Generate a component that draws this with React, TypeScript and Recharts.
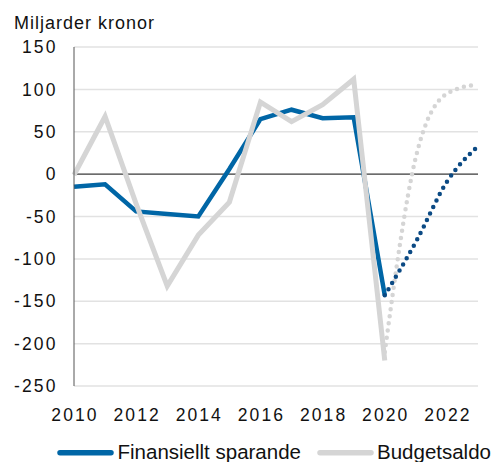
import React from 'react';
import { LineChart, Line, XAxis, YAxis, CartesianGrid, ReferenceLine } from 'recharts';

const years = [2010, 2011, 2012, 2013, 2014, 2015, 2016, 2017, 2018, 2019, 2020, 2021, 2022, 2023];
const finansielltSparande = [-15, -12, -44, -47, -50, 6, 65, 76, 66, 67, -143, null, null, null];
const budgetsaldo = [-1, 68, -35, -132, -72, -33, 85, 62, 82, 112, -220, null, null, null];
const finansielltPrognos = [null, null, null, null, null, null, null, null, null, null, -143, -80, -9, 33];
const budgetPrognos = [null, null, null, null, null, null, null, null, null, null, -210, 20, 95, 106];

const xTicks = [2010, 2012, 2014, 2016, 2018, 2020, 2022];
const yTicks = [-250, -200, -150, -100, -50, 0, 50, 100, 150];

const data = years.map((year, i) => ({
  year,
  fin: finansielltSparande[i],
  budget: budgetsaldo[i],
  finProg: finansielltPrognos[i],
  budgetProg: budgetPrognos[i],
}));

const BLUE = '#0066a6';
const BLUE_DARK = '#0b4a84';
const GREY = '#d5d5d5';

const tickStyle = {
  fill: '#111',
  fontSize: 17.5,
  fontFamily: '"Liberation Sans", Arial, sans-serif',
  letterSpacing: 2.1,
};

const App: React.FC = () => {
  return (
    <div style={{ position: 'absolute', left: 0, top: 0, width: 495, height: 462 }}>
      <LineChart width={495} height={462} data={data} margin={{ top: 47, right: 17, left: 0, bottom: 46 }}>
        <CartesianGrid vertical={false} stroke="#e2e2e2" strokeWidth={1.5} />
        <XAxis
          dataKey="year"
          type="number"
          domain={[2010, 2023]}
          ticks={xTicks}
          axisLine={false}
          tickLine={false}
          tickSize={0}
          tickMargin={22.6}
          height={30}
          dx={1}
          tick={tickStyle}
        />
        <YAxis
          domain={[-250, 150]}
          ticks={yTicks}
          width={74}
          axisLine={{ stroke: '#555', strokeWidth: 1 }}
          tickLine={false}
          tickSize={0}
          tickMargin={16.5}
          tick={tickStyle}
        />
        <ReferenceLine y={0} stroke="#444" strokeWidth={1.2} />
        <Line dataKey="fin" stroke={BLUE} strokeWidth={4.5} dot={false} activeDot={false} isAnimationActive={false} />
        <Line dataKey="budget" stroke={GREY} strokeWidth={5} dot={false} activeDot={false} isAnimationActive={false} />
        <Line
          dataKey="budgetProg"
          type="monotone"
          stroke={GREY}
          strokeWidth={4.5}
          strokeDasharray="0 7.2"
          strokeLinecap="round"
          dot={false}
          activeDot={false}
          isAnimationActive={false}
        />
        <Line
          dataKey="finProg"
          type="monotone"
          stroke={BLUE_DARK}
          strokeWidth={4.5}
          strokeDasharray="0 7.2"
          strokeLinecap="round"
          dot={false}
          activeDot={false}
          isAnimationActive={false}
        />
      </LineChart>

      {/* title and legend drawn on top */}
      <svg width={495} height={462} style={{ position: 'absolute', left: 0, top: 0, pointerEvents: 'none' }}>
        <text x={14} y={29} fontSize={18} fontFamily='"Liberation Sans", Arial, sans-serif' letterSpacing={1} fill="#111">
          Miljarder kronor
        </text>
        <line x1={60} x2={111} y1={452.7} y2={452.7} stroke={BLUE} strokeWidth={5.5} strokeLinecap="round" />
        <text x={117.5} y={459.3} fontSize={20.5} fontFamily='"Liberation Sans", Arial, sans-serif' fill="#111">
          Finansiellt sparande
        </text>
        <line x1={320} x2={371} y1={452.7} y2={452.7} stroke={GREY} strokeWidth={5.5} strokeLinecap="round" />
        <text x={377} y={459.3} fontSize={20.5} fontFamily='"Liberation Sans", Arial, sans-serif' fill="#111">
          Budgetsaldo
        </text>
      </svg>
    </div>
  );
};

export default App;
